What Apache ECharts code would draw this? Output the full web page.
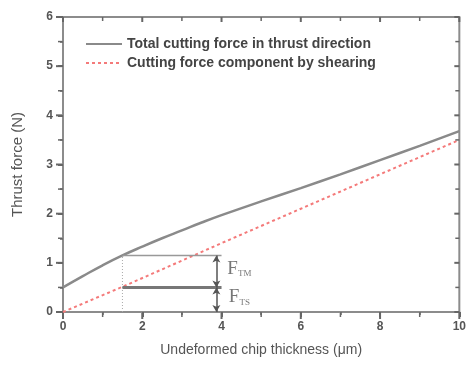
<!DOCTYPE html>
<html>
<head>
<meta charset="utf-8">
<script src="https://cdn.jsdelivr.net/npm/echarts@6/dist/echarts.min.js"></script>
<style>
  html, body { margin: 0; padding: 0; background: #fff; }
  #chart { width: 469px; height: 365px; }
</style>
</head>
<body>
<div id="chart"></div>
<script>
// thickness (um) and thrust force (N)
var totalX = [0, 0.5, 1, 1.5, 2, 2.5, 3, 3.5, 4, 5, 6, 7, 8, 9, 10];
var totalY = [0.5, 0.73, 0.95, 1.15, 1.33, 1.5, 1.66, 1.82, 1.97, 2.25, 2.52, 2.8, 3.09, 3.38, 3.68];
var shearX = [0, 1.55, 4, 6, 8, 10];
var shearY = [0, 0.53, 1.4, 2.1, 2.8, 3.5];

// tick positions
var xMajor = [0, 2, 4, 6, 8, 10];
var xMinor = [1, 3, 5, 7, 9];
var yMajor = [0, 1, 2, 3, 4, 5, 6];
var yMinor = [0.5, 1.5, 2.5, 3.5, 4.5, 5.5];

// construction lines for F_TM / F_TS
var guideX = 1.5;
var arrowX = 3.87;
var lineEndX = 4.0;
var topY = 1.15;
var midY = 0.5;
var labelX = 4.45;
var tmLabelY = 0.88;
var tsLabelY = 0.3;

var chartDom = document.getElementById('chart');
var myChart = echarts.init(chartDom);

function pairs(xs, ys) {
  var out = [];
  for (var i = 0; i < xs.length; i++) {
    out.push([xs[i], ys[i]]);
  }
  return out;
}
function atY(xs, y) { return xs.map(function (x) { return [x, y]; }); }
function atX(ys, x) { return ys.map(function (y) { return [x, y]; }); }

var axisGray = '#8c8c8c';
var tickGray = '#666';
var textGray = '#555';

function tickSeries(data, size, offset) {
  return {
    type: 'scatter', silent: true, clip: false, z: 10,
    symbol: 'rect', symbolSize: size, symbolOffset: offset,
    itemStyle: { color: tickGray, opacity: 1 },
    data: data
  };
}

var option = {
  animation: false,
  grid: { left: 63, right: 7, top: 17, bottom: 53, show: true, borderColor: axisGray, borderWidth: 2 },
  legend: {
    left: 80,
    top: 32,
    orient: 'vertical',
    itemWidth: 36,
    itemHeight: 10,
    itemGap: 5,
    itemStyle: { opacity: 0 },
    data: ['Total cutting force in thrust direction', 'Cutting force component by shearing'],
    textStyle: { color: '#444', fontSize: 14, fontWeight: 'bold', fontFamily: 'Liberation Sans' }
  },
  xAxis: {
    type: 'value', min: 0, max: 10, interval: 2,
    name: 'Undeformed chip thickness (\u03bcm)',
    nameLocation: 'middle', nameGap: 31,
    nameTextStyle: { color: textGray, fontSize: 14, fontFamily: 'Liberation Sans' },
    axisLine: { show: true, onZero: false, lineStyle: { color: axisGray, width: 2 } },
    axisTick: { show: true, length: 5, lineStyle: { color: tickGray, width: 2 } },
    minorTick: { show: true, splitNumber: 2, length: 3, lineStyle: { color: tickGray, width: 1.5 } },
    splitLine: { show: false },
    axisLabel: { color: textGray, fontSize: 12, fontWeight: 'bold', margin: 9, fontFamily: 'Liberation Sans' }
  },
  yAxis: {
    type: 'value', min: 0, max: 6, interval: 1,
    name: 'Thrust force (N)',
    nameLocation: 'middle', nameGap: 38,
    nameTextStyle: { color: textGray, fontSize: 15, fontFamily: 'Liberation Sans' },
    axisLine: { show: true, onZero: false, lineStyle: { color: axisGray, width: 2 } },
    axisTick: { show: true, length: 5, lineStyle: { color: tickGray, width: 2 } },
    minorTick: { show: true, splitNumber: 2, length: 3, lineStyle: { color: tickGray, width: 1.5 } },
    splitLine: { show: false },
    axisLabel: { color: textGray, fontSize: 12, fontWeight: 'bold', margin: 10, fontFamily: 'Liberation Sans' }
  },
  series: [
    {
      name: 'Total cutting force in thrust direction',
      type: 'line', smooth: true, symbol: 'none',
      data: pairs(totalX, totalY),
      itemStyle: { color: '#8a8a8a' },
      lineStyle: { color: '#8a8a8a', width: 2.5 }
    },
    {
      name: 'Cutting force component by shearing',
      type: 'line', symbol: 'none',
      data: pairs(shearX, shearY),
      itemStyle: { color: '#f47a7a' },
      lineStyle: { color: '#f47a7a', width: 2, type: [3, 3] }
    },
    {
      // vertical dotted guide at the chosen thickness
      type: 'line', symbol: 'none', silent: true,
      data: [[guideX, 0], [guideX, topY]],
      lineStyle: { color: '#aaa', width: 1, type: [1, 2] }
    },
    {
      type: 'line', symbol: 'none', silent: true,
      data: [[guideX, topY], [lineEndX, topY]],
      lineStyle: { color: '#999', width: 1.5 }
    },
    {
      type: 'line', symbol: 'none', silent: true,
      data: [[guideX, midY], [lineEndX, midY]],
      lineStyle: { color: '#777', width: 3 }
    },
    {
      type: 'line', symbol: 'none', silent: true,
      data: [],
      markLine: {
        silent: true,
        symbol: ['arrow', 'arrow'],
        symbolSize: [6, 7],
        label: { show: false },
        lineStyle: { color: '#555', width: 1.5, type: 'solid' },
        data: [
          [{ coord: [arrowX, 0] }, { coord: [arrowX, midY] }],
          [{ coord: [arrowX, midY] }, { coord: [arrowX, topY] }]
        ]
      }
    },
    {
      type: 'scatter', symbolSize: 0, silent: true,
      data: [[labelX, tmLabelY, 'TM'], [labelX, tsLabelY, 'TS']],
      label: {
        show: true, position: 'inside',
        formatter: function (p) { return '{f|F}{s|' + p.value[2] + '}'; },
        rich: {
          f: { fontFamily: 'Liberation Serif', fontSize: 19, color: '#555', verticalAlign: 'bottom' },
          s: { fontFamily: 'Liberation Serif', fontSize: 9, color: '#555', verticalAlign: 'bottom', padding: [9, 0, 0, 0] }
        }
      }
    },
    // ticks: outward on bottom / left, inward on top / right
    tickSeries(atY(xMajor, 0), [2, 6], [0, 4]),
    tickSeries(atY(xMinor, 0), [1.5, 4], [0, 3]),
    tickSeries(atX(yMajor, 0), [6, 2], [-4, 0]),
    tickSeries(atX(yMinor, 0), [4, 1.5], [-3, 0]),
    tickSeries(atY(xMajor, 6), [2, 5], [0, 2.5]),
    tickSeries(atY(xMinor, 6), [1.5, 4], [0, 2]),
    tickSeries(atX(yMajor, 10), [5, 2], [-2.5, 0]),
    tickSeries(atX(yMinor, 10), [4, 1.5], [-2, 0])
  ]
};

option && myChart.setOption(option);
</script>
</body>
</html>
